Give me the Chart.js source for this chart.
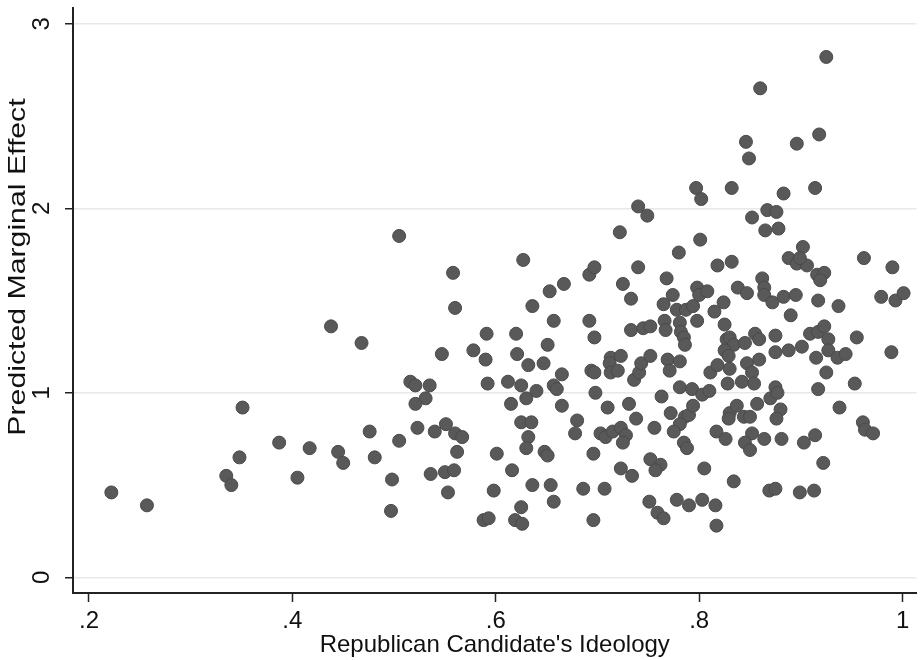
<!DOCTYPE html>
<html>
<head>
<meta charset="utf-8">
<script src="https://cdn.jsdelivr.net/npm/chart.js@4.4.0/dist/chart.umd.min.js"></script>
<style>
  html, body { margin: 0; padding: 0; background: #fff; }
  #wrap { width: 924px; height: 660px; }
</style>
</head>
<body>
<div id="wrap"><canvas id="chart" width="924" height="660"></canvas></div>
<script>
// x: Republican candidate's ideology, y: predicted marginal effect
const ideology = [
  .222, .257, .335, .340, .348, .351, .387, .405, .417, .438, .445, .450, .468,
  .476, .481, .498, .497, .505, .505, .516, .521, .535, .531, .521, .523, .540,
  .547, .551, .560, .567, .562, .536, .550, .559, .553, .560, .558,
  .578, .590, .591, .592, .601, .598, .588, .593, .616, .612, .620, .621, .615,
  .625, .627, .625, .635, .632, .630, .632, .630, .636, .640, .636, .625, .619,
  .626, .647, .651, .653, .648, .651, .654, .657, .657, .657, .660, .665, .665,
  .667, .680, .678, .686, .692, .692, .697, .697, .694, .697, .698, .696, .696,
  .703, .708, .707,
  .710, .715, .723, .728, .725, .713, .723, .712, .713, .720, .722, .725, .733,
  .733, .731, .723, .734, .738, .736, .741, .743, .740, .740, .749, .745, .752,
  .752, .756, .752, .762, .757, .751, .759, .765, .765, .768, .766, .767, .769,
  .771, .772, .763, .774, .778, .787, .794, .780, .781, .782, .785, .786, .781,
  .781, .786, .790, .781, .775, .785, .788, .778, .790, .794, .793, .797, .802,
  .801, .798, .800, .808, .798, .803, .810, .811, .818, .805, .803, .816, .817,
  .817, .826, .815, .824, .825, .818, .832, .832, .827, .830, .834, .825, .829,
  .830, .828, .842, .830, .837, .829, .844, .850, .852, .845, .850, .864, .834,
  .838, .847, .846, .849, .860, .852, .867, .876, .865, .878, .862, .864, .864,
  .872, .847, .859, .852, .854, .855, .859, .845, .857, .870, .875, .877, .880,
  .876, .881, .869, .875, .875, .875, .883, .895, .890, .888, .896, .906, .902,
  .896, .883, .888, .901, .909, .917, .923, .927, .927, .915, .936, .944, .925,
  .917, .953, .955, .938, .903, .914, .922, .899, .913, .961, .963, .971, .918,
  .925, .914, .916, .923, .919, .917, .937, .962, .990, .979, .993, 1.001, .989,
  .899
];
const marginalEffect = [
  .46, .39, .55, .50, .65, .92, .73, .54, .70, 1.36, .68, .62, 1.27,
  .79, .65, .53, .36, .74, 1.85, 1.06, 1.04, 1.04, .97, .94, .81, .79,
  1.21, .83, .78, .76, .68, .56, .57, .58, .46, 1.46, 1.65,
  1.23, 1.18, 1.32, 1.05, .67, .47, .31, .32, .58, 1.06, 1.32, 1.21, .94,
  1.04, 1.72, .84, .84, .76, .70, 1.15, .97, 1.47, 1.01, .50, .38, .31,
  .29, 1.16, 1.26, 1.55, .68, .66, .50, .41, 1.39, 1.04, 1.02, .93, 1.10,
  1.59, .85, .78, .48, 1.39, 1.64, 1.68, 1.30, 1.12, 1.11, 1.00, .67, .31,
  .78, .76, .48,
  .92, .79, .81, .77, .73, 1.19, 1.20, 1.16, 1.11, 1.12, 1.87, 1.59, 1.51,
  1.34, .94, .59, .55, .86, 1.07, 1.11, 1.16, 1.68, 2.01, 1.96, 1.35, 1.36,
  1.20, .81, .64, .61, .58, .41, .35, .32, 1.48, 1.62, 1.39, 1.34, 1.18,
  1.12, .89, .98, 1.53, 1.45, 1.45, 1.47, 1.76, 1.38, 1.33, 1.30, 1.26, 1.17,
  1.03, .87, .88, .83, .79, .73, .70, .42, .39, .93, 1.02, 2.11, 2.05,
  1.83, 1.57, 1.53, 1.55, 1.39, .99, 1.01, 1.11, 1.15, .59, .42, .39, .28,
  .79, .75, 1.44, 1.49, 1.37, 1.69, 1.71, 2.11, 1.29, 1.30, 1.26, 1.23, 1.20,
  1.13, 1.05, 1.06, .89, .93, .86, .87, .87, .78, .73, .69, .75, .52,
  1.57, 1.54, 2.36, 2.27, 2.65, 1.95, 1.99, 1.98, 1.88, 1.89, 1.62, 1.57, 1.53,
  1.49, 1.16, 1.18, 1.11, 1.05, 1.32, 1.29, 1.27, .94, .97, 1.03, 1.00, .91,
  .86, .75, .47, .48, 1.31, 1.22, 1.52, 1.53, 1.42, 1.73, 1.70, 1.69, 1.79,
  2.35, 2.08, 1.23, 1.25, 1.32, 1.33, 1.36, 1.29, 1.23, 1.19, 1.19, 1.21, 1.11,
  1.02, 1.05, 1.30, .92, .73, .77, .62, .46, .47, .84, .80, .78, 2.40,
  2.82, 2.11, 1.64, 1.65, 1.61, 1.50, 1.47, 1.73, 1.68, 1.52, 1.50, 1.54, 1.22,
  1.73
];

const xTicks = [0.2, 0.4, 0.6, 0.8, 1];
const xTickLabels = ['.2', '.4', '.6', '.8', '1'];
const yTicks = [0, 1, 2, 3];
const yTickLabels = ['0', '1', '2', '3'];
const xTitle = "Republican Candidate's Ideology";
const yTitle = 'Predicted Marginal Effect';

const points = ideology.map((x, i) => ({ x: x, y: marginalEffect[i] }));
const fontFamily = "'Liberation Sans', Arial, sans-serif";

// y axis title: drawn a bit above the plot middle and stretched along its length, like the original
const yTitlePlugin = {
    id: 'yTitle',
    afterDraw(chart) {
        const ctx = chart.ctx;
        ctx.save();
        ctx.translate(18, 267);
        ctx.rotate(-Math.PI / 2);
        ctx.scale(1.26, 1);
        ctx.font = '24px ' + fontFamily;
        ctx.fillStyle = '#111';
        ctx.textAlign = 'center';
        ctx.textBaseline = 'middle';
        ctx.fillText(yTitle, 0, 0);
        ctx.restore();
    }
};

const ctx = document.getElementById('chart').getContext('2d');
new Chart(ctx, {
    type: 'scatter',
    data: {
        datasets: [{
            data: points,
            pointRadius: 6.5,
            pointHoverRadius: 6.5,
            backgroundColor: '#595959',
            borderColor: '#4a4a4a',
            borderWidth: 1
        }]
    },
    options: {
        responsive: false,
        animation: false,
        devicePixelRatio: 1,
        layout: { padding: { top: 7, right: 4, left: 0, bottom: 0 } },
        plugins: {
            legend: { display: false },
            tooltip: { enabled: false }
        },
        scales: {
            x: {
                type: 'linear',
                min: 0.1843,
                max: 1.0137,
                afterBuildTicks: (scale) => { scale.ticks = xTicks.map(v => ({ value: v })); },
                afterFit: (scale) => {
                    scale.height = 67;
                    scale.paddingLeft = 0;
                    scale.paddingRight = 0;
                },
                ticks: {
                    callback: (v) => xTickLabels[xTicks.indexOf(v)],
                    color: '#111',
                    font: { family: fontFamily, size: 24 },
                    padding: 5,
                    maxRotation: 0
                },
                grid: {
                    drawOnChartArea: false,
                    drawTicks: true,
                    tickLength: 9,
                    tickColor: '#222',
                    tickWidth: 1.5
                },
                border: { display: true, color: '#222', width: 2 },
                title: {
                    display: true,
                    text: xTitle,
                    color: '#111',
                    font: { family: fontFamily, size: 24 },
                    padding: { top: 0, bottom: 0 }
                }
            },
            y: {
                type: 'linear',
                min: -0.085,
                max: 3.088,
                afterBuildTicks: (scale) => { scale.ticks = yTicks.map(v => ({ value: v })); },
                afterFit: (scale) => {
                    scale.width = 73;
                    scale.paddingTop = 0;
                    scale.paddingBottom = 0;
                },
                ticks: {
                    callback: (v) => yTickLabels[yTicks.indexOf(v)],
                    color: '#111',
                    font: { family: fontFamily, size: 24 },
                    minRotation: 90,
                    maxRotation: 90,
                    crossAlign: 'center',
                    padding: 16
                },
                grid: {
                    color: '#e8e8e8',
                    lineWidth: 1.5,
                    drawTicks: true,
                    tickLength: 8,
                    tickColor: '#222',
                    tickWidth: 1.5
                },
                border: { display: true, color: '#222', width: 2 }
            }
        }
    },
    plugins: [yTitlePlugin]
});
</script>
</body>
</html>
